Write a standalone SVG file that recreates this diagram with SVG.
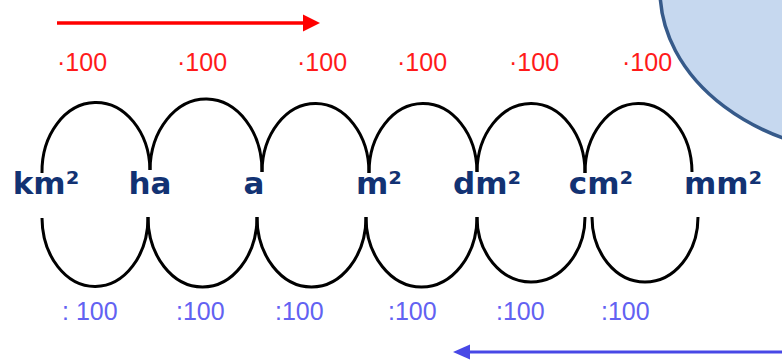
<svg xmlns="http://www.w3.org/2000/svg" width="782" height="363" viewBox="0 0 782 363">
<defs>
<style>
.arc{fill:none;stroke:#000;stroke-width:3}
.unit{font-family:"DejaVu Sans",Verdana,sans-serif;font-weight:bold;font-size:31px;fill:#123273;text-anchor:middle}
.mul{font-family:"Liberation Sans",Arial,sans-serif;font-size:25px;fill:#ff1a1a}
.div{font-family:"Liberation Sans",Arial,sans-serif;font-size:25px;fill:#6262f2}
</style>
</defs>
<rect width="782" height="363" fill="#fff"/>
<g id="bubble">
<ellipse cx="880" cy="-10" rx="220" ry="165" fill="#c6d8ef" stroke="#365a8a" stroke-width="3.5"/>
</g>
<g id="connectors">
<g id="arrow-mul">
<line x1="57" y1="23" x2="306" y2="23" stroke="#ff0000" stroke-width="3.5"/>
<polygon points="303,14.5 320,23 303,31.5" fill="#ff0000"/>
</g>
<g id="arrow-div">
<line x1="466" y1="352" x2="782" y2="352" stroke="#4848e6" stroke-width="3"/>
<polygon points="470,344.5 453,352 470,359.5" fill="#4848e6"/>
</g>
<g id="upper-arcs">
<path class="arc" d="M42 173 A54 69 0 0 1 150 170"/>
<path class="arc" d="M150 170 A56 72 0 0 1 262 172"/>
<path class="arc" d="M262 172 A53.5 69 0 0 1 369 173"/>
<path class="arc" d="M369 173 A54 69 0 0 1 477 172"/>
<path class="arc" d="M477 172 A54 69 0 0 1 585 173"/>
<path class="arc" d="M585 173 A53.5 69 0 0 1 692 172"/>
</g>
<g id="lower-arcs">
<path class="arc" d="M42 218 A53 69 0 0 0 148 217"/>
<path class="arc" d="M148 217 A54.5 70 0 0 0 257 217"/>
<path class="arc" d="M257 217 A54.5 70 0 0 0 366 217"/>
<path class="arc" d="M366 217 A55.5 70 0 0 0 477 217"/>
<path class="arc" d="M477 217 A54 65 0 0 0 585 217"/>
<path class="arc" d="M592 217 A53 65 0 0 0 698 217"/>
</g>
</g>
<g id="n-km2"><text class="unit" x="46" y="194">km²</text></g>
<g id="n-ha"><text class="unit" x="150" y="194">ha</text></g>
<g id="n-a"><text class="unit" x="254" y="194">a</text></g>
<g id="n-m2"><text class="unit" x="379" y="194">m²</text></g>
<g id="n-dm2"><text class="unit" x="487" y="194">dm²</text></g>
<g id="n-cm2"><text class="unit" x="601" y="194">cm²</text></g>
<g id="n-mm2"><text class="unit" x="723" y="194">mm²</text></g>
<g id="mul-labels">
<text class="mul" x="57" y="71">·100</text>
<text class="mul" x="177" y="71">·100</text>
<text class="mul" x="297" y="71">·100</text>
<text class="mul" x="397" y="71">·100</text>
<text class="mul" x="509" y="71">·100</text>
<text class="mul" x="622" y="71">·100</text>
</g>
<g id="div-labels">
<text class="div" x="62" y="320">: 100</text>
<text class="div" x="176" y="320">:100</text>
<text class="div" x="275" y="320">:100</text>
<text class="div" x="388" y="320">:100</text>
<text class="div" x="496" y="320">:100</text>
<text class="div" x="601" y="320">:100</text>
</g>
</svg>
